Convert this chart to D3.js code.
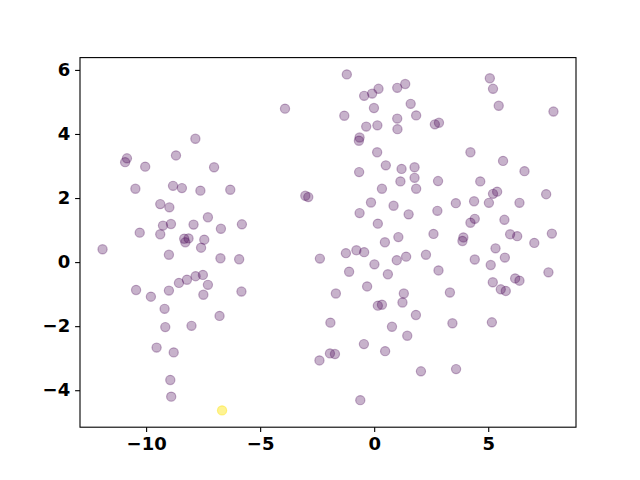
<!DOCTYPE html>
<html>
<head>
<meta charset="utf-8">
<script src="https://cdn.jsdelivr.net/npm/d3@7"></script>
<style>
html,body{margin:0;padding:0;background:#fff;}
svg{display:block;}
.tick text{font-family:"DejaVu Sans",sans-serif;font-weight:bold;font-size:18px;fill:#000;}
</style>
</head>
<body>
<svg id="chart" width="640" height="480"></svg>
<script>
const xs = [-11.91,-10.92,-10.84,-10.04,-8.69,-7.84,-7.02,-10.47,-8.82,-8.43,-7.62,-6.31,-9.38,-8.98,-7.29,-9.26,-8.91,-7.92,-6.72,-5.80,-10.28,-9.38,-8.33,-8.14,-8.28,-7.45,-7.59,-9.00,-6.74,-5.92,-7.51,-7.83,-8.21,-8.56,-7.29,-10.44,-9.00,-9.79,-7.49,-5.82,-9.19,-6.78,-9.16,-8.01,-9.54,-8.79,-8.94,-8.90,-6.67,
-3.91,-3.02,-2.89,-1.20,-0.44,-0.09,0.19,1.01,1.36,-0.01,1.60,1.84,-1.31,1.01,-0.35,0.14,1.02,-0.64,-0.67,0.13,0.51,1.20,-0.66,1.77,1.77,5.07,5.21,5.46,7.86,2.66,2.84,4.22,5.65,6.59,2.80,4.65,1.15,0.34,1.84,-0.14,0.85,-0.64,1.51,0.16,0.47,1.06,-2.38,-1.24,-0.78,-0.44,0.01,0.99,1.40,-1.10,0.60,-0.31,-1.68,1.30,1.24,5.21,5.39,7.54,3.58,4.38,5.03,6.37,2.77,4.22,4.41,5.71,2.60,3.91,3.87,5.96,6.27,7.02,7.79,5.32,2.27,4.41,5.73,5.11,2.82,7.64,5.20,6.18,6.37,3.32,5.55,5.77,0.16,0.34,1.83,-1.92,0.78,1.45,-0.45,-1.94,-1.72,0.48,-2.40,-0.61,3.43,5.16,2.05,3.59];
const ys = [0.40,3.12,3.24,2.98,3.33,3.85,2.96,2.29,2.38,2.31,2.23,2.26,1.81,1.71,1.40,1.14,1.19,1.17,1.04,1.18,0.92,0.87,0.73,0.74,0.62,0.70,0.45,0.23,0.12,0.09,-0.40,-0.44,-0.55,-0.65,-0.71,-0.87,-0.89,-1.08,-1.02,-0.92,-1.46,-1.68,-2.03,-1.99,-2.67,-2.82,-3.68,-4.20,-4.63,
4.79,2.07,2.03,5.86,5.19,5.26,5.41,5.44,5.56,4.81,4.94,4.58,4.57,4.48,4.23,4.27,4.15,3.89,3.79,3.43,3.02,2.91,2.81,2.96,2.63,5.74,5.41,4.88,4.70,4.30,4.35,3.43,3.16,2.84,2.53,2.52,2.52,2.29,2.29,1.86,1.76,1.53,1.49,1.20,0.62,0.78,0.11,0.28,0.37,0.31,-0.07,0.06,0.17,-0.30,-0.38,-0.76,-0.98,-0.98,-1.26,2.13,2.20,2.12,1.84,1.90,1.85,1.85,1.60,1.23,1.35,1.32,0.88,0.77,0.66,0.87,0.81,0.60,0.89,0.43,0.23,0.08,0.14,-0.09,-0.26,-0.32,-0.63,-0.51,-0.58,-0.95,-0.85,-0.90,-1.36,-1.33,-1.65,-1.89,-2.02,-2.30,-2.56,-2.85,-2.87,-2.78,-3.07,-4.31,-1.91,-1.88,-3.41,-3.34];
// class value: all 0 except one point (index 48) which is 1
const cls = xs.map((d, i) => i === 48 ? 1 : 0);
const xTicks = [-10, -5, 0, 5];
const yTicks = [-4, -2, 0, 2, 4, 6];

const svg = d3.select("#chart");
const L = 80, R = 576, T = 57.6, B = 427.2;
const pad = (ext) => { const r = ext[1] - ext[0]; return [ext[0] - 0.05 * r, ext[1] + 0.05 * r]; };
const x = d3.scaleLinear().domain(pad(d3.extent(xs))).range([L, R]);
const y = d3.scaleLinear().domain(pad(d3.extent(ys))).range([B, T]);
const color = d3.scaleSequential(d3.interpolateViridis).domain([0, 1]);

const data = xs.map((d, i) => ({x: d, y: ys[i], c: cls[i]}));
svg.append("g").selectAll("circle").data(data).join("circle")
  .attr("cx", d => x(d.x)).attr("cy", d => y(d.y)).attr("r", 4.6)
  .attr("fill", d => color(d.c)).attr("fill-opacity", d => d.c ? 0.5 : 0.3)
  .attr("stroke", d => color(d.c)).attr("stroke-opacity", d => d.c ? 0.5 : 0.3).attr("stroke-width", 1.2);

const fmt = d => (d < 0 ? "\u2212" + Math.abs(d) : String(d));
const xa = svg.append("g").attr("transform", `translate(0,${B})`)
  .call(d3.axisBottom(x).tickValues(xTicks).tickFormat(fmt).tickSizeInner(4.9).tickSizeOuter(0).tickPadding(4.9));
const ya = svg.append("g").attr("transform", `translate(${L},0)`)
  .call(d3.axisLeft(y).tickValues(yTicks).tickFormat(fmt).tickSizeInner(4.9).tickSizeOuter(0).tickPadding(4.9));
[xa, ya].forEach(g => { g.select(".domain").remove(); g.selectAll("line").attr("stroke", "#000").attr("stroke-width", 1.1); });

svg.append("rect").attr("x", L).attr("y", T).attr("width", R - L).attr("height", B - T)
  .attr("fill", "none").attr("stroke", "#000").attr("stroke-width", 1.1);
</script>
</body>
</html>
